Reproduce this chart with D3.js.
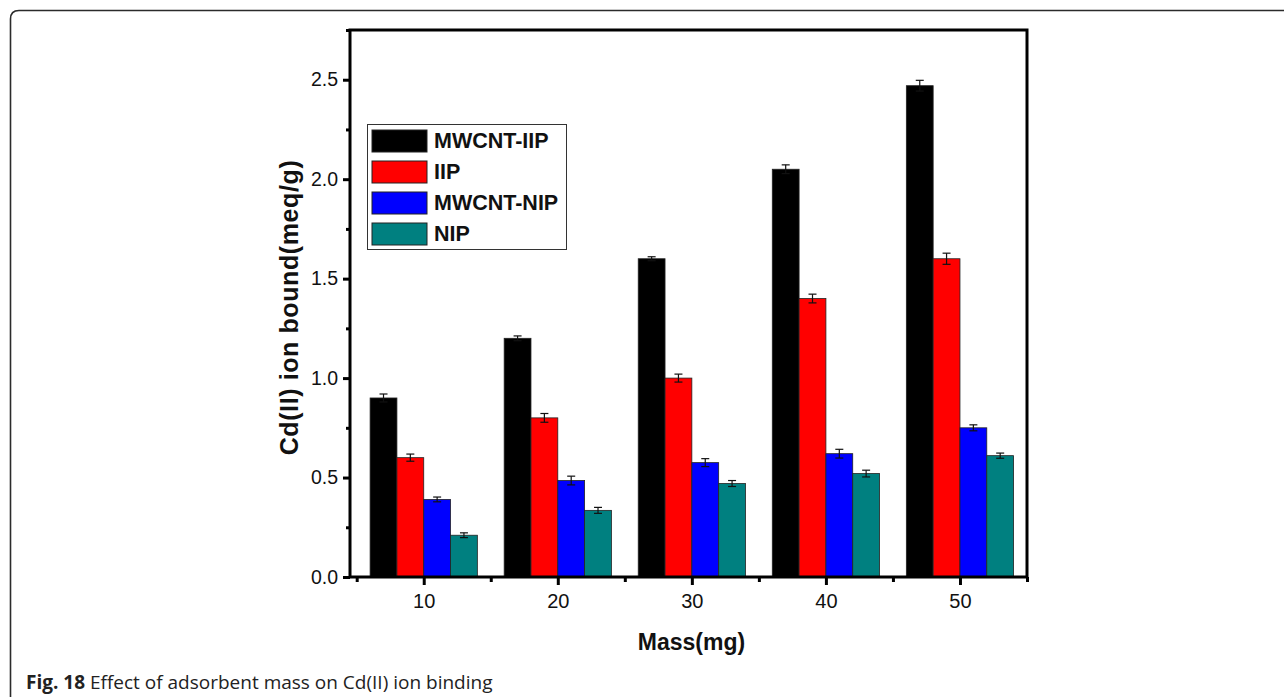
<!DOCTYPE html>
<html>
<head>
<meta charset="utf-8">
<script src="https://cdn.jsdelivr.net/npm/d3@7"></script>
<style>
  html, body { margin: 0; padding: 0; background: #fff; }
  svg { display: block; }
</style>
</head>
<body>
<svg id="chart" width="1284" height="697"></svg>
<script>
// Adsorbent mass (mg) on the x axis
const masses = [10, 20, 30, 40, 50];

// Series names and fills
const seriesNames = ["MWCNT-IIP", "IIP", "MWCNT-NIP", "NIP"];
const seriesColors = ["#000000", "#ff0000", "#0000ff", "#008080"];

// Cd(II) bound, meq/g, per mass
const mwcntIip = [0.90, 1.20, 1.60, 2.05, 2.47];
const iip      = [0.60, 0.80, 1.00, 1.40, 1.60];
const mwcntNip = [0.39, 0.485, 0.575, 0.62, 0.75];
const nip      = [0.21, 0.335, 0.47, 0.52, 0.61];

// Standard errors
const mwcntIipErr = [0.02, 0.012, 0.01, 0.022, 0.027];
const iipErr      = [0.018, 0.022, 0.02, 0.022, 0.028];
const mwcntNipErr = [0.012, 0.022, 0.02, 0.022, 0.015];
const nipErr      = [0.012, 0.015, 0.015, 0.017, 0.013];

// Axis ticks
const yMajorTicks = [0, 0.5, 1.0, 1.5, 2.0, 2.5];
const yMinorTicks = [0.25, 0.75, 1.25, 1.75, 2.25, 2.75];
const xMinorTicks = [5, 15, 25, 35, 45, 55];

const seriesValues = [mwcntIip, iip, mwcntNip, nip];
const seriesErrors = [mwcntIipErr, iipErr, mwcntNipErr, nipErr];

const svg = d3.select("#chart");
const sansFont = "Arial, 'Liberation Sans', sans-serif";

// Card outline with rounded upper-left corner
svg.append("path")
  .attr("d", "M10.5,697 L10.5,19 Q10.5,10.5 19,10.5 L1284,10.5")
  .attr("fill", "none")
  .attr("stroke", "#2b2b2b")
  .attr("stroke-width", 1.6);

const plotLeft = 350, plotRight = 1027, plotTop = 30, plotBottom = 577;

const x = d3.scaleLinear().domain([4.5, 55]).range([plotLeft, plotRight]);
const y = d3.scaleLinear().domain([0, 2.75]).range([plotBottom, plotTop]);

const barW = x(2) - x(0);
const g = svg.append("g");

// Bars with error bars
seriesValues.forEach((vals, si) => {
  const offset = (si - 1.5) * 2; // each bar is 2 mass units wide
  vals.forEach((v, i) => {
    const cx = masses[i] + offset;
    g.append("rect")
      .attr("x", x(cx - 1))
      .attr("y", y(v))
      .attr("width", barW)
      .attr("height", y(0) - y(v))
      .attr("fill", seriesColors[si])
      .attr("stroke", "#222")
      .attr("stroke-width", 0.8);
    const e = seriesErrors[si][i];
    const px = x(cx);
    const eg = g.append("g").attr("stroke", "#111").attr("stroke-width", 1.2);
    eg.append("line").attr("x1", px).attr("x2", px).attr("y1", y(v + e)).attr("y2", y(v - e));
    eg.append("line").attr("x1", px - 4).attr("x2", px + 4).attr("y1", y(v + e)).attr("y2", y(v + e));
    eg.append("line").attr("x1", px - 4).attr("x2", px + 4).attr("y1", y(v - e)).attr("y2", y(v - e));
  });
});

// Frame
svg.append("rect")
  .attr("x", plotLeft).attr("y", plotTop)
  .attr("width", plotRight - plotLeft).attr("height", plotBottom - plotTop)
  .attr("fill", "none").attr("stroke", "#000").attr("stroke-width", 3);

// Y axis
const yAxis = d3.axisLeft(y).tickValues(yMajorTicks).tickFormat(d3.format(".1f")).tickSize(7).tickPadding(5);
const yAx = svg.append("g").attr("transform", `translate(${plotLeft},0)`).call(yAxis);
yAx.select(".domain").remove();
yAx.selectAll(".tick line").attr("stroke", "#000").attr("stroke-width", 3);
yAx.selectAll(".tick text")
  .attr("font-family", sansFont)
  .attr("font-size", 19.5).attr("fill", "#111");
const yMinor = d3.axisLeft(y).tickValues(yMinorTicks).tickSize(4).tickFormat("");
const yMi = svg.append("g").attr("transform", `translate(${plotLeft},0)`).call(yMinor);
yMi.select(".domain").remove();
yMi.selectAll(".tick line").attr("stroke", "#000").attr("stroke-width", 3);

// X axis
const xAxis = d3.axisBottom(x).tickValues(masses).tickFormat(d3.format("d")).tickSize(8).tickPadding(9);
const xAx = svg.append("g").attr("transform", `translate(0,${plotBottom})`).call(xAxis);
xAx.select(".domain").remove();
xAx.selectAll(".tick line").attr("stroke", "#000").attr("stroke-width", 3);
xAx.selectAll(".tick text")
  .attr("font-family", sansFont)
  .attr("font-size", 20).attr("fill", "#111");
const xMinor = d3.axisBottom(x).tickValues(xMinorTicks).tickSize(5).tickFormat("");
const xMi = svg.append("g").attr("transform", `translate(0,${plotBottom})`).call(xMinor);
xMi.select(".domain").remove();
xMi.selectAll(".tick line").attr("stroke", "#000").attr("stroke-width", 3);

// Axis titles
svg.append("text")
  .attr("x", (plotLeft + plotRight) / 2 + 3).attr("y", 650)
  .attr("text-anchor", "middle")
  .attr("font-family", sansFont)
  .attr("font-weight", "bold").attr("font-size", 23).attr("fill", "#111")
  .text("Mass(mg)");

svg.append("text")
  .attr("transform", `translate(298,${(plotTop + plotBottom) / 2 + 4}) rotate(-90)`)
  .attr("text-anchor", "middle")
  .attr("font-family", sansFont)
  .attr("font-weight", "bold").attr("font-size", 25).attr("letter-spacing", 0.6).attr("fill", "#111")
  .text("Cd(II) ion bound(meq/g)");

// Legend
const lg = svg.append("g");
lg.append("rect")
  .attr("x", 367.5).attr("y", 124.5).attr("width", 199).attr("height", 125)
  .attr("fill", "#fff").attr("stroke", "#333").attr("stroke-width", 1);
seriesNames.forEach((name, i) => {
  const ry = 130 + i * 31;
  lg.append("rect")
    .attr("x", 372).attr("y", ry).attr("width", 55).attr("height", 22)
    .attr("fill", seriesColors[i]).attr("stroke", "#222").attr("stroke-width", 1);
  lg.append("text")
    .attr("x", 434).attr("y", ry + 18)
    .attr("font-family", sansFont)
    .attr("font-weight", "bold").attr("font-size", 21.5).attr("fill", "#111")
    .text(name);
});

// Caption
const cap = svg.append("text")
  .attr("x", 26).attr("y", 689)
  .attr("font-family", "'Open Sans', 'Noto Sans', sans-serif")
  .attr("font-size", 19).attr("fill", "#222");
cap.append("tspan").attr("font-weight", "bold").text("Fig. 18");
cap.append("tspan").text(" Effect of adsorbent mass on Cd(II) ion binding");
</script>
</body>
</html>
